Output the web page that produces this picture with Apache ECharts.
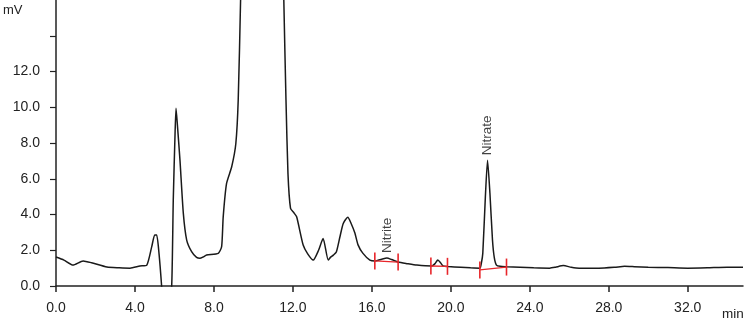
<!DOCTYPE html>
<html>
<head>
<meta charset="utf-8">
<script src="https://cdn.jsdelivr.net/npm/echarts@6/dist/echarts.min.js"></script>
<style>html,body{margin:0;padding:0;background:#fff}#c{width:750px;height:330px}</style>
</head>
<body>
<div id="c"></div>
<script>
// Retention time (min)
var times = [0, 0.4, 0.86, 1.37, 1.8, 2.58, 3.2, 3.75, 4.25, 4.6, 4.85, 5.0, 5.1, 5.22, 5.35, 5.6, 5.86, 5.94, 6.03, 6.08, 6.15, 6.28, 6.45, 6.62, 6.87, 7.12, 7.29, 7.45, 7.63, 8.22, 8.39, 8.47, 8.64, 8.9, 9.11, 9.23, 9.35, 9.5, 10.4, 11.4, 11.54, 11.65, 11.75, 11.88, 12.05, 12.19, 12.52, 12.75, 13.03, 13.3, 13.53, 13.79, 13.9, 14.05, 14.2, 14.38, 14.55, 14.78, 14.95, 15.14, 15.3, 15.54, 15.9, 16.15, 16.5, 16.76, 17.0, 17.33, 17.8, 18.28, 19.04, 19.2, 19.34, 19.48, 19.6, 19.85, 20.5, 21.0, 21.47, 21.55, 21.62, 21.75, 21.86, 21.98, 22.11, 22.2, 22.31, 22.5, 22.82, 23.5, 24.2, 25.0, 25.3, 25.7, 26.1, 26.5, 27.5, 28.3, 28.8, 29.3, 30.0, 31.0, 32.0, 33.0, 34.0, 34.8];
// Detector signal (mV)
var signal = [1.62, 1.45, 1.17, 1.40, 1.30, 1.06, 1.02, 1.00, 1.12, 1.17, 2.2, 2.85, 2.85, 1.8, 0.0, -4, 0.0, 4.8, 8.5, 9.95, 9.0, 7.04, 4.06, 2.57, 1.92, 1.6, 1.55, 1.62, 1.73, 1.83, 2.2, 3.87, 5.74, 6.67, 7.97, 10.4, 16, 25, 40, 25, 16, 10.4, 6.3, 4.34, 4.1, 3.87, 2.29, 1.8, 1.45, 2.0, 2.66, 1.45, 1.6, 1.73, 1.9, 2.74, 3.5, 3.85, 3.5, 2.96, 2.3, 1.84, 1.45, 1.40, 1.5, 1.56, 1.48, 1.34, 1.25, 1.17, 1.12, 1.25, 1.45, 1.3, 1.12, 1.09, 1.05, 1.02, 1.0, 1.3, 1.84, 5.0, 7.04, 5.2, 2.57, 1.6, 1.17, 1.1, 1.08, 1.05, 1.02, 1.0, 1.05, 1.14, 1.05, 1.0, 1.0, 1.05, 1.1, 1.08, 1.05, 1.03, 1.0, 1.02, 1.05, 1.05];
// Integration baselines [start, end] as [time, mV]
var baseNitrite = [[16.15, 1.40], [17.33, 1.34]];
var baseUnknown = [[18.99, 1.12], [19.83, 1.10]];
var baseNitrate = [[21.47, 0.90], [22.82, 1.06]];
// Peak labels
var peakNames = ['Nitrite', 'Nitrate'];
var peakTimes = [16.76, 21.86];
var peakHeights = [1.56, 7.04];
// Axis ticks
var xTicks = [0, 4, 8, 12, 16, 20, 24, 28, 32];
var yTicks = [0, 2, 4, 6, 8, 10, 12, 14];
var yLabels = [0, 2, 4, 6, 8, 10, 12];

var FONT = '"Liberation Sans", Arial, sans-serif';
var trace = times.map(function (t, i) { return [t, signal[i]]; });

function baseSeries(d) {
  return {
    type: 'line', data: d, silent: true, animation: false,
    lineStyle: { color: '#e8262b', width: 1.3 },
    itemStyle: { color: '#e8262b' },
    symbol: 'rect', symbolSize: [1.6, 17], showAllSymbol: true, z: 3
  };
}

var chart = echarts.init(document.getElementById('c'), null, { renderer: 'canvas' });
chart.setOption({
  animation: false,
  grid: { left: 56, right: 7, top: 0, bottom: 44 },
  xAxis: {
    type: 'value', min: 0, max: 34.8, interval: 4, offset: 3,
    axisLine: { show: true, lineStyle: { color: '#222', width: 1.5 } },
    axisTick: { show: true, length: 6, customValues: xTicks, lineStyle: { color: '#222', width: 1.5 } },
    axisLabel: { customValues: xTicks, margin: 12, color: '#222', fontSize: 14, fontFamily: FONT,
      formatter: function (v) { return v.toFixed(1); } },
    splitLine: { show: false }
  },
  yAxis: {
    type: 'value', min: 0, max: 16, interval: 2, offset: 2,
    axisLine: { show: true, lineStyle: { color: '#222', width: 1.5 } },
    axisTick: { show: true, length: 6, customValues: yTicks, lineStyle: { color: '#222', width: 1.2 } },
    axisLabel: { customValues: yLabels, margin: 14, color: '#222', fontSize: 14, fontFamily: FONT,
      formatter: function (v) { return v.toFixed(1); } },
    splitLine: { show: false }
  },
  graphic: [
    { type: 'text', left: 3, top: 4, style: { text: 'mV', fontSize: 13, fontFamily: FONT, fill: '#222' } },
    { type: 'text', left: 722, top: 307, style: { text: 'min', fontSize: 13.5, fontFamily: FONT, fill: '#222' } }
  ],
  series: [
    {
      type: 'line', data: trace, showSymbol: false, clip: true, z: 2,
      smooth: 0.2,
      lineStyle: { color: '#1a1a1a', width: 1.5 }
    },
    baseSeries(baseNitrite),
    baseSeries(baseUnknown),
    baseSeries(baseNitrate),
    {
      type: 'scatter', symbolSize: 0, z: 4,
      data: peakNames.map(function (n, i) { return { name: n, value: [peakTimes[i], peakHeights[i]] }; }),
      label: {
        show: true, formatter: '{b}', position: 'top', distance: 5, rotate: 90,
        align: 'left', verticalAlign: 'middle',
        color: '#111', fontSize: 13.5, fontFamily: FONT
      }
    }
  ]
});
</script>
</body>
</html>
